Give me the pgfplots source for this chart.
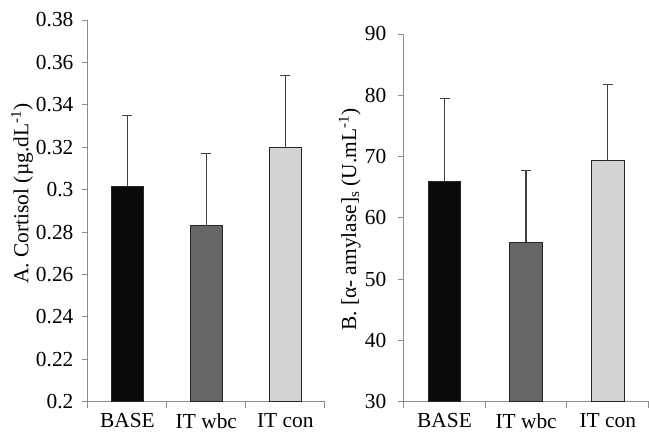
\documentclass[border=0pt]{standalone}
\usepackage{pgfplots}
\pgfplotsset{compat=1.18}
\usepackage{fontspec}
\setmainfont{Liberation Serif}
\definecolor{cBase}{HTML}{0A0A0A}
\definecolor{cWbc}{HTML}{666666}
\definecolor{cCon}{HTML}{D3D3D3}
\definecolor{axgray}{HTML}{8C8C8C}
\definecolor{errc}{HTML}{404040}
\pgfplotsset{
  myax/.style={
    scale only axis,
    anchor=south west,
    axis lines*=left,
    axis line style={axgray, line width=0.9bp},
    every tick/.style={axgray, line width=0.9bp},
    tick align=outside,
    xmin=-0.5, xmax=2.5,
    xtick={0,1,2},
    xticklabels={BASE, IT wbc, IT con},
    minor xtick={-0.5,0.5,1.5,2.5},
    major tick length=6bp,
    minor tick length=6bp,
    x tick style={draw=none},
    minor x tick style={axgray, line width=0.9bp, draw=axgray},
    ticklabel style={font=\fontsize{21.5}{25}\selectfont},
    /pgf/number format/assume math mode=true,
    label style={font=\fontsize{21.5}{25}\selectfont},
    xticklabel style={yshift=-2bp},
    ybar, bar width=0.4,
    clip=false,
  },
  mybar/.style={draw=black!85, line width=0.8bp,
    /pgfplots/error bars/y dir=plus,
    /pgfplots/error bars/y explicit,
    /pgfplots/error bars/error bar style={errc, line width=1.3bp},
    /pgfplots/error bars/error mark options={errc, line width=1.3bp, mark size=5bp, rotate=90}},
}
\begin{document}
\begin{tikzpicture}
\path (0,0) rectangle (649bp,435bp);
\begin{axis}[myax,
  at={(88bp,33bp)}, width=237bp, height=382bp,
  ymin=0.2, ymax=0.38, ytick={0.2,0.22,0.24,0.26,0.28,0.3,0.32,0.34,0.36,0.38},
  yticklabel style={/pgf/number format/fixed, /pgf/number format/precision=2, xshift=-5bp},
  ylabel={A. Cortisol (µg.dL\textsuperscript{-1})},
  ylabel style={at={([xshift=-66bp]rel axis cs:0,0.545)}, anchor=center},
]
\addplot[mybar, fill=cBase, bar shift=0pt] coordinates {(0,0.3015) +- (0,0.0335)};
\addplot[mybar, fill=cWbc, bar shift=0pt] coordinates {(1,0.283) +- (0,0.034)};
\addplot[mybar, fill=cCon, bar shift=0pt] coordinates {(2,0.3198) +- (0,0.034)};
\end{axis}
\begin{axis}[myax,
  at={(404bp,33bp)}, width=245bp, height=368bp,
  ymin=30, ymax=90, ytick={30,40,50,60,70,80,90},
  yticklabel style={xshift=-8bp},
  ylabel={B. [α- amylase]\textsubscript{s} (U.mL\textsuperscript{-1})},
  ylabel style={at={([xshift=-54bp]rel axis cs:0,0.495)}, anchor=center},
]
\addplot[mybar, fill=cBase, bar shift=0pt] coordinates {(0,65.9) +- (0,13.6)};
\addplot[mybar, fill=cWbc, bar shift=0pt] coordinates {(1,56.0) +- (0,11.7)};
\addplot[mybar, fill=cCon, bar shift=0pt] coordinates {(2,69.3) +- (0,12.5)};
\end{axis}
\end{tikzpicture}
\end{document}
